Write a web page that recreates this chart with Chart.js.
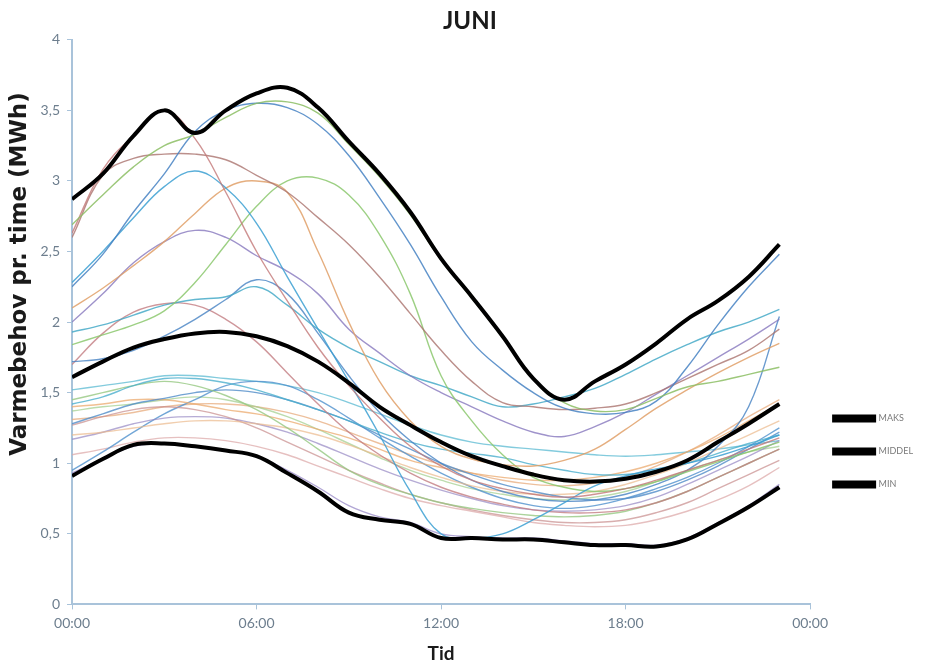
<!DOCTYPE html>
<html>
<head>
<meta charset="utf-8">
<script src="https://cdn.jsdelivr.net/npm/chart.js@4/dist/chart.umd.min.js"></script>
<style>
  html, body { margin: 0; padding: 0; background: #fff; }
  #wrap { width: 948px; height: 671px; }
</style>
</head>
<body>
<div id="wrap"><canvas id="chart"></canvas></div>
<script>
// Hours of the day (x values)
const hours = [0, 1, 2, 3, 4, 5, 6, 7, 8, 9, 10, 11, 12, 13, 14, 15, 16, 17, 18, 19, 20, 21, 22, 23];

// Envelope series (thick black)
const maks =   [2.87, 3.05, 3.32, 3.50, 3.34, 3.50, 3.62, 3.66, 3.52, 3.28, 3.05, 2.78, 2.45, 2.18, 1.90, 1.60, 1.45, 1.58, 1.70, 1.85, 2.02, 2.15, 2.32, 2.55];
const middel = [1.61, 1.72, 1.82, 1.88, 1.92, 1.93, 1.90, 1.83, 1.72, 1.57, 1.40, 1.27, 1.15, 1.05, 0.98, 0.92, 0.88, 0.87, 0.89, 0.94, 1.02, 1.15, 1.28, 1.42];
const min =    [0.91, 1.03, 1.13, 1.14, 1.12, 1.09, 1.05, 0.93, 0.80, 0.65, 0.60, 0.57, 0.47, 0.47, 0.46, 0.46, 0.44, 0.42, 0.42, 0.41, 0.46, 0.57, 0.69, 0.83];

// Daily curves (thin lines)
const day01 = [2.69, 2.90, 3.10, 3.25, 3.33, 3.45, 3.55, 3.56, 3.48, 3.26, 3.03, 2.76, 2.44, 2.17, 1.89, 1.60, 1.43, 1.37, 1.38, 1.46, 1.54, 1.58, 1.63, 1.68];
const day02 = [2.25, 2.48, 2.78, 3.05, 3.35, 3.50, 3.55, 3.52, 3.40, 3.18, 2.88, 2.55, 2.18, 1.86, 1.66, 1.50, 1.39, 1.35, 1.36, 1.44, 1.68, 1.98, 2.25, 2.48];
const day03 = [2.63, 3.08, 3.32, 3.50, 3.30, 2.92, 2.50, 2.15, 1.82, 1.55, 1.32, 1.12, 0.98, 0.88, 0.82, 0.78, 0.76, 0.78, 0.82, 0.88, 0.95, 1.02, 1.10, 1.18];
const day04 = [2.60, 3.04, 3.16, 3.19, 3.19, 3.15, 3.04, 2.92, 2.74, 2.55, 2.32, 2.06, 1.80, 1.58, 1.43, 1.40, 1.38, 1.39, 1.42, 1.50, 1.60, 1.70, 1.80, 1.95];
const day05 = [2.28, 2.50, 2.74, 2.96, 3.07, 2.95, 2.70, 2.32, 1.95, 1.58, 1.20, 0.80, 0.50, 0.47, 0.50, 0.60, 0.72, 0.84, 0.91, 0.96, 1.00, 1.05, 1.12, 1.20];
const day06 = [2.10, 2.24, 2.40, 2.57, 2.77, 2.95, 3.00, 2.92, 2.50, 2.00, 1.58, 1.30, 1.12, 1.03, 0.99, 0.98, 1.02, 1.10, 1.24, 1.39, 1.52, 1.64, 1.75, 1.85];
const day07 = [1.84, 1.91, 1.98, 2.08, 2.28, 2.55, 2.82, 3.00, 3.02, 2.90, 2.62, 2.20, 1.62, 1.30, 1.06, 0.90, 0.83, 0.80, 0.82, 0.87, 0.94, 1.01, 1.08, 1.15];
const day08 = [2.00, 2.20, 2.42, 2.57, 2.65, 2.60, 2.47, 2.36, 2.20, 1.95, 1.78, 1.62, 1.50, 1.40, 1.30, 1.22, 1.19, 1.26, 1.36, 1.49, 1.62, 1.75, 1.88, 2.02];
const day09 = [1.93, 1.98, 2.05, 2.12, 2.16, 2.18, 2.25, 2.12, 1.95, 1.82, 1.72, 1.62, 1.55, 1.47, 1.40, 1.42, 1.47, 1.53, 1.63, 1.74, 1.84, 1.93, 2.00, 2.09];
const day10 = [1.72, 1.74, 1.80, 1.90, 2.02, 2.16, 2.30, 2.20, 1.92, 1.62, 1.36, 1.16, 1.00, 0.88, 0.80, 0.75, 0.73, 0.74, 0.78, 0.85, 0.95, 1.12, 1.40, 2.04];
const day11 = [1.70, 1.92, 2.07, 2.13, 2.12, 2.02, 1.86, 1.64, 1.42, 1.22, 1.06, 0.93, 0.83, 0.76, 0.71, 0.67, 0.65, 0.65, 0.67, 0.72, 0.80, 0.90, 1.00, 1.10];
const day12 = [1.42, 1.47, 1.55, 1.60, 1.60, 1.57, 1.52, 1.45, 1.38, 1.30, 1.22, 1.15, 1.10, 1.07, 1.04, 0.99, 0.95, 0.92, 0.92, 0.95, 1.00, 1.07, 1.14, 1.20];
const day13 = [1.45, 1.50, 1.55, 1.58, 1.55, 1.48, 1.38, 1.25, 1.10, 0.95, 0.85, 0.78, 0.72, 0.68, 0.65, 0.63, 0.62, 0.63, 0.66, 0.72, 0.80, 0.90, 1.00, 1.10];
const day14 = [1.28, 1.35, 1.42, 1.46, 1.50, 1.52, 1.50, 1.45, 1.38, 1.30, 1.20, 1.10, 1.00, 0.92, 0.85, 0.80, 0.76, 0.74, 0.75, 0.80, 0.88, 0.98, 1.10, 1.22];
const day15 = [1.40, 1.42, 1.45, 1.45, 1.42, 1.38, 1.35, 1.30, 1.24, 1.18, 1.10, 1.02, 0.97, 0.93, 0.90, 0.88, 0.88, 0.90, 0.94, 1.00, 1.08, 1.18, 1.30, 1.42];
const day16 = [1.20, 1.22, 1.25, 1.28, 1.30, 1.30, 1.28, 1.25, 1.20, 1.13, 1.05, 0.97, 0.90, 0.84, 0.80, 0.78, 0.78, 0.80, 0.85, 0.92, 1.00, 1.10, 1.20, 1.30];
const day17 = [1.27, 1.33, 1.38, 1.40, 1.38, 1.33, 1.25, 1.15, 1.05, 0.95, 0.86, 0.78, 0.72, 0.67, 0.63, 0.60, 0.58, 0.58, 0.60, 0.65, 0.72, 0.82, 0.92, 1.02];
const day18 = [1.17, 1.22, 1.28, 1.32, 1.33, 1.32, 1.28, 1.22, 1.14, 1.05, 0.96, 0.88, 0.81, 0.75, 0.70, 0.67, 0.66, 0.67, 0.70, 0.76, 0.85, 0.95, 1.05, 1.16];
const day19 = [0.95, 1.08, 1.22, 1.35, 1.45, 1.55, 1.58, 1.55, 1.45, 1.32, 1.18, 1.05, 0.93, 0.83, 0.75, 0.70, 0.68, 0.70, 0.75, 0.82, 0.90, 1.00, 1.12, 1.25];
const day20 = [1.06, 1.10, 1.15, 1.18, 1.18, 1.16, 1.12, 1.06, 0.98, 0.90, 0.82, 0.75, 0.70, 0.66, 0.62, 0.58, 0.56, 0.55, 0.56, 0.60, 0.66, 0.74, 0.84, 0.97];
const day21 = [1.52, 1.55, 1.58, 1.62, 1.62, 1.60, 1.58, 1.55, 1.50, 1.43, 1.35, 1.27, 1.20, 1.15, 1.12, 1.10, 1.08, 1.06, 1.05, 1.06, 1.08, 1.10, 1.13, 1.16];
const day22 = [1.37, 1.40, 1.42, 1.45, 1.47, 1.45, 1.40, 1.33, 1.24, 1.14, 1.04, 0.95, 0.88, 0.82, 0.78, 0.75, 0.74, 0.76, 0.80, 0.87, 0.95, 1.02, 1.08, 1.12];
const day23 = [1.31, 1.33, 1.36, 1.40, 1.42, 1.42, 1.40, 1.36, 1.30, 1.22, 1.14, 1.06, 0.99, 0.93, 0.88, 0.85, 0.84, 0.86, 0.90, 0.98, 1.08, 1.20, 1.33, 1.45];
const day24 = [0.93, 1.03, 1.12, 1.14, 1.12, 1.09, 1.05, 0.95, 0.83, 0.70, 0.62, 0.58, 0.50, 0.48, 0.47, 0.47, 0.45, 0.43, 0.43, 0.42, 0.47, 0.58, 0.70, 0.85];

const days = [day01, day02, day03, day04, day05, day06, day07, day08, day09, day10, day11, day12,
              day13, day14, day15, day16, day17, day18, day19, day20, day21, day22, day23, day24];

// Excel-like palette, a bit washed out
const dayColors = [
  'rgba(140,190,100,0.85)', 'rgba(70,130,195,0.85)', 'rgba(195,120,120,0.8)', 'rgba(170,115,110,0.8)',
  'rgba(60,160,210,0.85)', 'rgba(225,160,105,0.85)', 'rgba(140,200,110,0.85)', 'rgba(135,120,190,0.8)',
  'rgba(70,170,200,0.85)', 'rgba(70,130,195,0.8)', 'rgba(195,125,130,0.8)', 'rgba(75,175,205,0.8)',
  'rgba(150,200,130,0.8)', 'rgba(80,140,200,0.8)', 'rgba(235,170,110,0.75)', 'rgba(235,185,140,0.7)',
  'rgba(200,140,140,0.7)', 'rgba(150,135,195,0.7)', 'rgba(80,145,205,0.8)', 'rgba(220,165,165,0.7)',
  'rgba(90,185,210,0.75)', 'rgba(160,205,140,0.7)', 'rgba(230,165,115,0.7)', 'rgba(145,130,195,0.7)'
];

const datasets = [
  { label: 'MAKS', data: maks, borderColor: '#000', backgroundColor: '#000', borderWidth: 4 },
  { label: 'MIDDEL', data: middel, borderColor: '#000', backgroundColor: '#000', borderWidth: 4 },
  { label: 'MIN', data: min, borderColor: '#000', backgroundColor: '#000', borderWidth: 4 }
];
days.forEach((d, i) => {
  datasets.push({ label: 'Dag ' + (i + 1), data: d, borderColor: dayColors[i], borderWidth: 1.4 });
});

const axisColor = '#a9c3da';
const tickColor = '#6d7e8e';

new Chart(document.getElementById('chart'), {
  type: 'line',
  data: { labels: hours, datasets: datasets },
  options: {
    responsive: true,
    maintainAspectRatio: false,
    animation: false,
    layout: { padding: { left: 0, right: 25, top: 0, bottom: 6 } },
    elements: {
      point: { radius: 0 },
      line: { tension: 0.4, fill: false }
    },
    plugins: {
      title: {
        display: true,
        text: '\u00a0\u00a0\u00a0JUNI',
        color: '#1a1a1a',
        font: { family: 'Lato', size: 24, weight: 'bold' },
        padding: { top: 7, bottom: 4 }
      },
      legend: {
        position: 'right',
        align: 'center',
        title: { display: true, text: '', font: { size: 10 }, padding: { top: 226, bottom: 0 } },
        labels: {
          filter: (item) => item.datasetIndex < 3,
          boxWidth: 40,
          boxHeight: 4,
          padding: 24,
          color: '#7a7a7a',
          font: { family: 'Lato', size: 9 }
        }
      },
      tooltip: { enabled: false }
    },
    scales: {
      x: {
        type: 'linear',
        min: 0,
        max: 24,
        ticks: {
          stepSize: 6,
          color: tickColor,
          font: { family: 'Lato', size: 14 },
          padding: 6,
          callback: (v) => String(v % 24).padStart(2, '0') + ':00'
        },
        grid: { display: true, drawOnChartArea: false, drawTicks: true, tickLength: 5, color: axisColor },
        border: { color: axisColor, width: 2 },
        title: {
          display: true,
          text: 'Tid',
          color: '#1a1a1a',
          font: { family: 'Lato', size: 19, weight: 'bold' },
          padding: { top: 4, bottom: 0 }
        }
      },
      y: {
        min: 0,
        max: 4,
        ticks: {
          stepSize: 0.5,
          color: tickColor,
          font: { family: 'Lato', size: 14 },
          padding: 7,
          callback: (v) => String(v).replace('.', ',')
        },
        grid: { display: true, drawOnChartArea: false, drawTicks: true, tickLength: 5, color: axisColor },
        border: { color: axisColor, width: 2 },
        title: {
          display: true,
          text: '\u00a0\u00a0\u00a0\u00a0\u00a0\u00a0\u00a0\u00a0\u00a0\u00a0\u00a0\u00a0Varmebehov pr. time (MWh)',
          color: '#1a1a1a',
          font: { family: 'DejaVu Sans', size: 23, weight: 'bold' },
          padding: { top: 6, bottom: 0 }
        }
      }
    }
  }
});
</script>
</body>
</html>
